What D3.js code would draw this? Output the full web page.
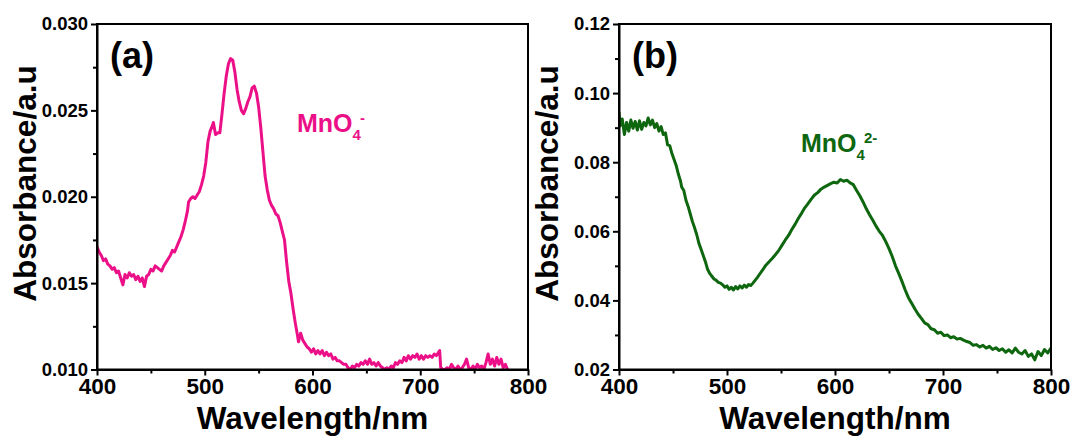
<!DOCTYPE html>
<html lang="en">
<head>
<meta charset="UTF-8">
<title>MnO4 absorbance spectra</title>
<script src="https://d3js.org/d3.v7.min.js"></script>
<style>
  body { margin: 0; background: #fff; }
  svg { display: block; font-family: "Liberation Sans", Arial, sans-serif; font-weight: bold; }
</style>
</head>
<body>
<svg id="chart" width="1070" height="436"></svg>
<script>
// panel (a): MnO4- spectrum
const wlA = [400,402,404,406,408,410,412,414,416,418,420,422,424,426,428,430,432,434,436,438,440,442,444,446,448,450,452,454,456,458,460,462,464,466,468,470,472,474,476,478,480,482,484,485,487,489,491,493,495,497,499,501,503,505,507,508,510,512,514,516,518,520,522,524,526,528,530,532,534,536,538,540,542,544,546,548,550,552,554,556,558,560,562,564,566,568,570,572,574,576,578,580,582,584,586,587,589,591,593,595,597,599,601,603,605,607,609,611,613,615,617,619,621,623,625,627,629,631,633,635,637,639,641,643,645,647,649,651,653,655,657,659,661,663,665,667,669,671,673,675,677,679,681,683,685,687,689,691,693,695,697,699,701,703,705,707,709,711,713,715,717,718,719,721,723,725,727,729,731,733,735,737,739,741,743,745,747,749,751,753,755,757,759,761,763,765,767,769,771,773,775,777,779,781];
const absA = [0.0171,0.0168,0.0166,0.0163,0.0164,0.0161,0.0160,0.0158,0.0159,0.0156,0.0157,0.0153,0.0149,0.0155,0.0153,0.0156,0.0154,0.0155,0.0152,0.0154,0.0151,0.0153,0.0148,0.0154,0.0155,0.0158,0.0157,0.0160,0.0159,0.0158,0.0157,0.0160,0.0162,0.0164,0.0166,0.0169,0.0168,0.0171,0.0174,0.0177,0.0181,0.0186,0.0192,0.0197,0.0199,0.0200,0.0199,0.0201,0.0203,0.0207,0.0212,0.0220,0.0232,0.0238,0.0241,0.0243,0.0236,0.0237,0.0237,0.0248,0.0260,0.0270,0.0277,0.0280,0.0279,0.0272,0.0262,0.0255,0.0250,0.0248,0.0251,0.0255,0.0258,0.0263,0.0264,0.0260,0.0252,0.0240,0.0226,0.0212,0.0204,0.0198,0.0195,0.0193,0.0190,0.0189,0.0185,0.0180,0.0175,0.0162,0.0151,0.0144,0.0135,0.0127,0.0120,0.0116,0.0121,0.0117,0.0115,0.0113,0.0112,0.0110,0.0112,0.0109,0.0111,0.0109,0.0111,0.0108,0.0110,0.0108,0.0109,0.0106,0.0107,0.0105,0.0105,0.0104,0.0103,0.0103,0.0101,0.0100,0.0102,0.0101,0.0103,0.0102,0.0104,0.0103,0.0105,0.0103,0.0106,0.0103,0.0104,0.0102,0.0104,0.0102,0.0101,0.0100,0.0101,0.0100,0.0102,0.0101,0.0104,0.0103,0.0105,0.0104,0.0107,0.0105,0.0108,0.0106,0.0108,0.0107,0.0109,0.0106,0.0108,0.0106,0.0108,0.0107,0.0108,0.0107,0.0109,0.0108,0.0110,0.0111,0.0101,0.0100,0.0100,0.0101,0.0100,0.0103,0.0101,0.0100,0.0102,0.0100,0.0101,0.0103,0.0106,0.0101,0.0100,0.0102,0.0100,0.0103,0.0101,0.0102,0.0100,0.0104,0.0109,0.0103,0.0106,0.0102,0.0107,0.0103,0.0106,0.0101,0.0103,0.0100];

// panel (b): MnO4 2- spectrum
const wlB = [400,401,403,405,407,409,411,413,415,417,419,421,423,425,427,429,431,433,435,437,439,441,443,445,447,449,451,453,455,457,458,460,462,464,466,468,470,472,474,476,478,480,482,484,486,488,490,492,494,496,498,500,502,504,506,508,510,512,514,516,518,520,522,524,526,528,530,533,536,539,542,545,548,551,554,557,560,563,566,569,572,575,578,581,584,587,590,593,596,599,602,605,608,611,614,617,620,623,626,629,632,635,638,641,644,647,650,653,656,659,662,665,668,671,674,677,680,683,686,689,692,695,698,701,704,707,710,713,716,719,722,725,728,731,734,737,740,743,746,749,752,755,758,761,764,767,770,773,776,779,782,785,788,791,794,797,800];
const absB = [0.0946,0.0905,0.0925,0.0880,0.0915,0.0890,0.0922,0.0898,0.0918,0.0893,0.0920,0.0895,0.0915,0.0905,0.0928,0.0908,0.0922,0.0900,0.0912,0.0890,0.0903,0.0880,0.0885,0.0850,0.0848,0.0825,0.0808,0.0790,0.0765,0.0745,0.0728,0.0718,0.0690,0.0672,0.0650,0.0628,0.0610,0.0590,0.0565,0.0548,0.0530,0.0512,0.0490,0.0478,0.0470,0.0462,0.0458,0.0452,0.0450,0.0445,0.0438,0.0442,0.0432,0.0438,0.0430,0.0440,0.0433,0.0442,0.0436,0.0444,0.0438,0.0446,0.0443,0.0450,0.0458,0.0466,0.0475,0.0488,0.0502,0.0512,0.0522,0.0533,0.0545,0.0560,0.0575,0.0588,0.0605,0.0620,0.0637,0.0652,0.0668,0.0680,0.0693,0.0705,0.0712,0.0722,0.0728,0.0733,0.0738,0.0742,0.0740,0.0750,0.0745,0.0748,0.0740,0.0735,0.0718,0.0703,0.0685,0.0665,0.0648,0.0632,0.0615,0.0600,0.0588,0.0570,0.0550,0.0527,0.0500,0.0478,0.0455,0.0430,0.0408,0.0392,0.0375,0.0360,0.0348,0.0335,0.0330,0.0318,0.0315,0.0305,0.0308,0.0298,0.0300,0.0292,0.0295,0.0288,0.0290,0.0285,0.0281,0.0278,0.0270,0.0272,0.0265,0.0270,0.0262,0.0267,0.0258,0.0263,0.0255,0.0260,0.0250,0.0257,0.0248,0.0262,0.0250,0.0245,0.0255,0.0238,0.0245,0.0228,0.0252,0.0240,0.0258,0.0248,0.0262];

const xTicks = [400, 500, 600, 700, 800];
const xMinor = [450, 550, 650, 750];
const yTicksA = [0.010, 0.015, 0.020, 0.025, 0.030];
const yMinorA = [0.0125, 0.0175, 0.0225, 0.0275];
const yTicksB = [0.02, 0.04, 0.06, 0.08, 0.10, 0.12];
const yMinorB = [0.03, 0.05, 0.07, 0.09, 0.11];

const panels = [
  {x: wlA, y: absA, yTicks: yTicksA, yMinor: yMinorA, fmt: ".3f", left: 97, right: 528,
   color: "#ec1088", tag: "(a)", label: ["MnO", "4", "-"], labelPos: [297, 132]},
  {x: wlB, y: absB, yTicks: yTicksB, yMinor: yMinorB, fmt: ".2f", left: 619, right: 1051,
   color: "#0e660f", tag: "(b)", label: ["MnO", "4", "2-"], labelPos: [801, 152]}
];
const plotTop = 24, plotBottom = 369.5;

const svg = d3.select("#chart");
svg.append("rect").attr("width", 1070).attr("height", 436).attr("fill", "#fff");

panels.forEach(p => {
  const x = d3.scaleLinear().domain([400, 800]).range([p.left, p.right]);
  const y = d3.scaleLinear().domain(d3.extent(p.yTicks)).range([plotBottom, plotTop]);
  const g = svg.append("g");

  // clip the curve to the plotting box
  const clipId = "clip" + p.tag.replace(/\W/g, "");
  svg.append("clipPath").attr("id", clipId)
    .append("rect").attr("x", p.left).attr("y", plotTop - 1)
    .attr("width", p.right - p.left).attr("height", plotBottom - plotTop + 1);

  const line = d3.line().x((d, i) => x(p.x[i])).y(d => y(d));
  g.append("path")
    .datum(p.y)
    .attr("clip-path", `url(#${clipId})`)
    .attr("fill", "none")
    .attr("stroke", p.color)
    .attr("stroke-width", 3)
    .attr("stroke-linejoin", "round")
    .attr("d", line);

  // frame
  g.append("rect")
    .attr("x", p.left).attr("y", plotTop)
    .attr("width", p.right - p.left).attr("height", plotBottom - plotTop)
    .attr("fill", "none").attr("stroke", "#000").attr("stroke-width", 2);

  // x axis
  const xa = g.append("g").attr("transform", `translate(0,${plotBottom})`)
    .call(d3.axisBottom(x).tickValues(xTicks).tickSize(6).tickSizeOuter(0).tickPadding(3));
  xa.selectAll("text").attr("font-size", 22.5).attr("fill", "#000");
  g.append("g").attr("transform", `translate(0,${plotBottom})`)
    .call(d3.axisBottom(x).tickValues(xMinor).tickSize(4).tickFormat(""))
    .call(s => s.select(".domain").remove());

  // y axis
  const ya = g.append("g").attr("transform", `translate(${p.left},0)`)
    .call(d3.axisLeft(y).tickValues(p.yTicks).tickSize(6).tickSizeOuter(0)
      .tickPadding(3).tickFormat(d3.format(p.fmt)));
  ya.selectAll("text").attr("font-size", 18.5).attr("fill", "#000");
  g.append("g").attr("transform", `translate(${p.left},0)`)
    .call(d3.axisLeft(y).tickValues(p.yMinor).tickSize(4).tickFormat(""))
    .call(s => s.select(".domain").remove());

  g.selectAll(".domain").attr("stroke-width", 2);
  g.selectAll(".tick line").attr("stroke-width", 2);

  // titles
  g.append("text")
    .attr("x", (p.left + p.right) / 2).attr("y", 429)
    .attr("text-anchor", "middle").attr("font-size", 31.5)
    .text("Wavelength/nm");
  g.append("text")
    .attr("transform", `translate(${p.left - 61},183.5) rotate(-90)`)
    .attr("text-anchor", "middle").attr("font-size", 31.5)
    .text("Absorbance/a.u");

  g.append("text")
    .attr("x", p.left + 13).attr("y", 68)
    .attr("font-size", 36)
    .text(p.tag);

  const lab = g.append("text")
    .attr("x", p.labelPos[0]).attr("y", p.labelPos[1])
    .attr("font-size", 25).attr("fill", p.color);
  lab.append("tspan").text(p.label[0]);
  lab.append("tspan").attr("font-size", 15).attr("dy", 8).text(p.label[1]);
  lab.append("tspan").attr("font-size", 15).attr("dy", -17).attr("dx", -1).text(p.label[2]);
});
</script>
</body>
</html>
